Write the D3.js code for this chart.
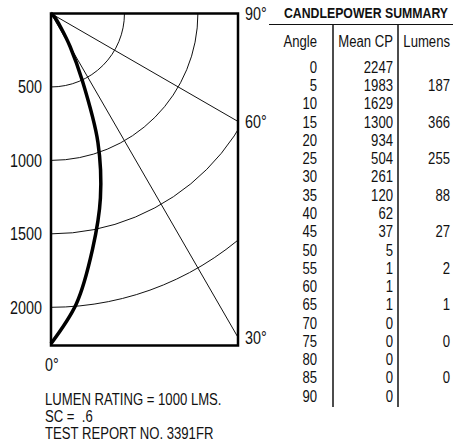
<!DOCTYPE html>
<html>
<head>
<meta charset="utf-8">
<script src="https://cdn.jsdelivr.net/npm/d3@7"></script>
<style>
  body { margin: 0; background: #fff; }
  svg text { font-family: 'Liberation Sans', Arial, sans-serif; fill: #111; white-space: pre; }
  .title { font-weight: bold; }
</style>
</head>
<body>
<svg id="chart" width="453" height="442"></svg>
<script>
// candlepower summary
const angles = [0, 5, 10, 15, 20, 25, 30, 35, 40, 45, 50, 55, 60, 65, 70, 75, 80, 85, 90];
const meanCP = [2247, 1983, 1629, 1300, 934, 504, 261, 120, 62, 37, 5, 1, 1, 1, 0, 0, 0, 0, 0];
const lumenZones = [5, 15, 25, 35, 45, 55, 65, 75, 85];
const lumens = [187, 366, 255, 88, 27, 2, 1, 0, 0];

const radialTicks = [500, 1000, 1500, 2000];
const angleTicks = [0, 30, 60, 90];
const columns = ['Angle', 'Mean CP', 'Lumens'];
const notes = ['LUMEN RATING = 1000 LMS.', 'SC =  .6', 'TEST REPORT NO. 3391FR'];

// condensed look: no narrow font installed, so squeeze horizontally
const SX = 0.82;
const place = (x, y) => `translate(${x},${y}) scale(${SX},1)`;

const svg = d3.select('#chart');

// polar frame: origin at the top-left corner, 0° points down, 90° points right
const origin = {x: 51, y: 13.5};
const frame = {w: 187, h: 332};

const r = d3.scaleLinear().domain([0, 2000]).range([0, 293.8]);
// d3 radial angles start at 12 o'clock, so 0° (down) is PI
const toRad = deg => Math.PI - deg * Math.PI / 180;

const plot = svg.append('g')
  .attr('transform', `translate(${origin.x},${origin.y})`);

plot.append('clipPath').attr('id', 'frameClip')
  .append('rect')
  .attr('width', frame.w).attr('height', frame.h);

const grid = plot.append('g').attr('clip-path', 'url(#frameClip)');

grid.selectAll('circle')
  .data(radialTicks)
  .join('circle')
  .attr('r', d => r(d))
  .attr('fill', 'none')
  .attr('stroke', '#111')
  .attr('stroke-width', 1);

grid.selectAll('line')
  .data(angleTicks.filter(d => d > 0 && d < 90))
  .join('line')
  .attr('x1', 0).attr('y1', 0)
  .attr('x2', d => Math.sin(d * Math.PI / 180) * 1000)
  .attr('y2', d => Math.cos(d * Math.PI / 180) * 1000)
  .attr('stroke', '#111')
  .attr('stroke-width', 1);

// candlepower curve
const line = d3.lineRadial()
  .angle(d => toRad(d.angle))
  .radius(d => r(d.cp))
  .curve(d3.curveCatmullRom.alpha(0.5));

plot.append('path')
  .datum(angles.map((a, i) => ({angle: a, cp: meanCP[i]})))
  .attr('d', line)
  .attr('fill', 'none')
  .attr('stroke', '#000')
  .attr('stroke-width', 3.5)
  .attr('stroke-linejoin', 'round');

plot.append('rect')
  .attr('width', frame.w).attr('height', frame.h)
  .attr('fill', 'none')
  .attr('stroke', '#000')
  .attr('stroke-width', 2.5);

// radial tick labels down the left edge
plot.selectAll('.rtick')
  .data(radialTicks)
  .join('text')
  .attr('class', 'rtick')
  .attr('transform', d => place(-9, r(d)))
  .attr('dy', '0.36em')
  .attr('text-anchor', 'end')
  .attr('font-size', 17.5)
  .text(d => d);

// angle labels
const angleLabelPos = d => {
  if (d === 0) return [-6, frame.h + 19];
  return [frame.w + 7, d === 90 ? 0 : frame.w / Math.tan(d * Math.PI / 180)];
};
plot.selectAll('.atick')
  .data(angleTicks)
  .join('text')
  .attr('class', 'atick')
  .attr('transform', d => place(angleLabelPos(d)[0], angleLabelPos(d)[1]))
  .attr('dy', '0.36em')
  .attr('font-size', 17.5)
  .text(d => d + '°');

// notes under the chart
svg.selectAll('.note')
  .data(notes)
  .join('text')
  .attr('class', 'note')
  .attr('transform', (d, i) => place(45, 399 + i * 17))
  .attr('dy', '0.36em')
  .attr('font-size', 16)
  .text(d => d);

// table
const rowY = d3.scaleLinear().domain([0, 90]).range([67, 396]);
const colRight = [317, 393, 450];

svg.append('text')
  .attr('class', 'title')
  .attr('transform', place(448, 18))
  .attr('text-anchor', 'end')
  .attr('font-size', 15)
  .text('CANDLEPOWER SUMMARY');

svg.append('line')
  .attr('x1', 269).attr('x2', 453)
  .attr('y1', 24.5).attr('y2', 24.5)
  .attr('stroke', '#111').attr('stroke-width', 1);

svg.selectAll('.divider')
  .data([333, 398])
  .join('line')
  .attr('class', 'divider')
  .attr('x1', d => d).attr('x2', d => d)
  .attr('y1', 25).attr('y2', 407)
  .attr('stroke', '#111').attr('stroke-width', 1.5);

svg.selectAll('.colhead')
  .data(columns)
  .join('text')
  .attr('class', 'colhead')
  .attr('transform', (d, i) => place(colRight[i], 41))
  .attr('dy', '0.36em')
  .attr('text-anchor', 'end')
  .attr('font-size', 16)
  .text(d => d);

svg.selectAll('.angle')
  .data(angles)
  .join('text')
  .attr('class', 'angle')
  .attr('transform', d => place(colRight[0], rowY(d)))
  .attr('dy', '0.36em')
  .attr('text-anchor', 'end')
  .attr('font-size', 16)
  .text(d => d);

svg.selectAll('.cp')
  .data(meanCP)
  .join('text')
  .attr('class', 'cp')
  .attr('transform', (d, i) => place(colRight[1], rowY(angles[i])))
  .attr('dy', '0.36em')
  .attr('text-anchor', 'end')
  .attr('font-size', 16)
  .text(d => d);

svg.selectAll('.lm')
  .data(lumens)
  .join('text')
  .attr('class', 'lm')
  .attr('transform', (d, i) => place(colRight[2], rowY(lumenZones[i])))
  .attr('dy', '0.36em')
  .attr('text-anchor', 'end')
  .attr('font-size', 16)
  .text(d => d);
</script>
</body>
</html>
